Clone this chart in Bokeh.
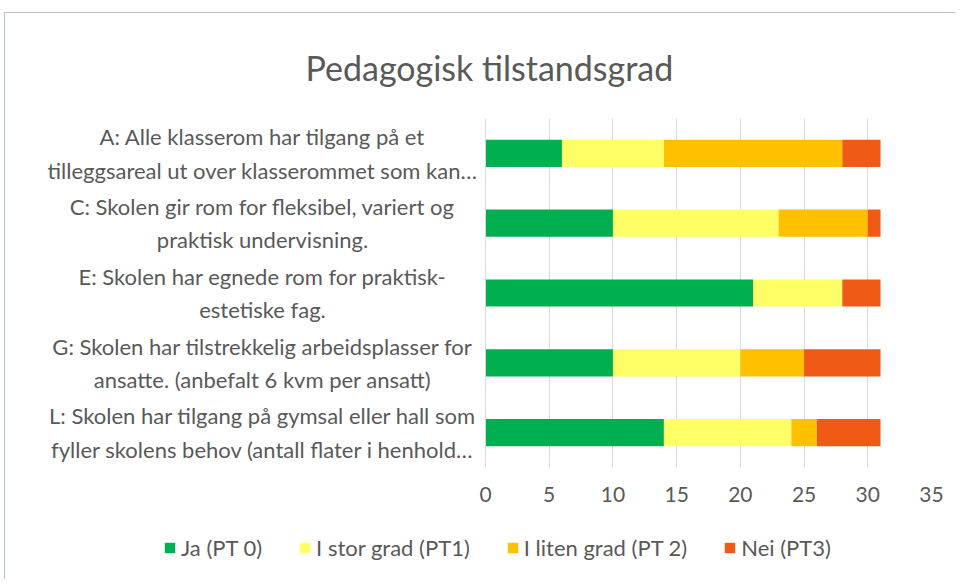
from bokeh.plotting import figure
from bokeh.models import ColumnDataSource, Range1d, FixedTicker, Legend, Title, Span
from bokeh.layouts import column
from bokeh.core.properties import value
from bokeh.embed import file_html
from bokeh.resources import INLINE

categories = [
    "A: Alle klasserom har tilgang på et\ntilleggsareal ut over klasserommet som kan…",
    "C: Skolen gir rom for fleksibel, variert og\npraktisk undervisning.",
    "E: Skolen har egnede rom for praktisk-\nestetiske fag.",
    "G: Skolen har tilstrekkelig arbeidsplasser for\nansatte. (anbefalt 6 kvm per ansatt)",
    "L: Skolen har tilgang på gymsal eller hall som\nfyller skolens behov (antall flater i henhold…",
]
ja = [6, 10, 21, 10, 14]
stor = [8, 13, 7, 10, 10]
liten = [14, 7, 0, 5, 2]
nei = [3, 1, 3, 6, 5]
series = ["ja", "stor", "liten", "nei"]
series_names = ["Ja (PT 0)", "I stor grad (PT1)", "I liten grad (PT 2)", "Nei (PT3)"]
colors = ["#00b050", "#ffff66", "#ffc000", "#ef5a17"]
x_ticks = [0, 5, 10, 15, 20, 25, 30, 35]

FONT = "Lato"
GRAY = "#595959"
BORDER = "1px solid #b4c0d0"

source = ColumnDataSource(dict(cat=categories, ja=ja, stor=stor, liten=liten, nei=nei))

# main chart: wide frame, the negative x region holds the category labels
p = figure(
    width=950, height=515,
    y_range=list(reversed(categories)),
    x_range=Range1d(-35.706, 35),
    output_backend="svg", toolbar_location=None,
    min_border_left=25, min_border_right=24, min_border_top=100, min_border_bottom=61,
)
p.outline_line_color = None

renderers = p.hbar_stack(series, y="cat", height=0.39,
                         color=colors, source=source, line_color=None)

p.text(x=-17.5, y="cat", text="cat", source=source, text_align="center",
       text_baseline="middle", text_font=value(FONT),
       text_font_size="22px", text_color=GRAY, text_line_height=1.24)

ticker = FixedTicker(ticks=x_ticks)
p.xaxis.ticker = ticker
p.xaxis.axis_line_color = None
p.xaxis.major_tick_line_color = None
p.xaxis.minor_tick_line_color = None
p.xaxis.major_label_text_font = FONT
p.xaxis.major_label_text_font_size = "21px"
p.xaxis.major_label_text_color = GRAY
p.xaxis.major_label_standoff = 13

p.yaxis.visible = False
p.ygrid.grid_line_color = None
p.xgrid.ticker = ticker
p.xgrid.grid_line_color = "#d9d9d9"
p.xgrid.grid_line_width = 1

p.add_layout(Span(location=0, dimension="height", line_color="#d9d9d9", line_width=1))

t = Title(text="Pedagogisk tilstandsgrad", align="left", offset=275, text_font=FONT,
          text_font_size="34px", text_font_style="normal", text_color=GRAY,
          standoff=62)
p.add_layout(t, "above")

# legend strip below the chart (same data, renderers hidden, only the legend shows)
p2 = figure(width=950, height=51, x_range=Range1d(0, 35), y_range=list(categories),
            output_backend="svg", toolbar_location=None, min_border=0)
p2.axis.visible = False
p2.grid.visible = False
p2.outline_line_color = None
legend_renderers = p2.hbar_stack(series, y="cat", height=0.39, color=colors,
                                 source=source, line_color=None)
for r in legend_renderers:
    r.visible = False

legend = Legend(items=[(n, [r]) for n, r in zip(series_names, legend_renderers)],
                orientation="horizontal", location=(133, 18),
                label_text_font=FONT, label_text_font_size="22px", label_text_color=GRAY,
                glyph_width=13, glyph_height=13, label_standoff=5, spacing=36, padding=4,
                border_line_color=None, background_fill_alpha=0, margin=0,
                inactive_fill_alpha=0)
p2.add_layout(legend, "center")

layout = column(p, p2, spacing=0,
                styles={"border-top": BORDER, "border-left": BORDER,
                        "margin-left": "4px", "margin-top": "12px"})
open("out.html", "w").write(file_html(layout, INLINE))
